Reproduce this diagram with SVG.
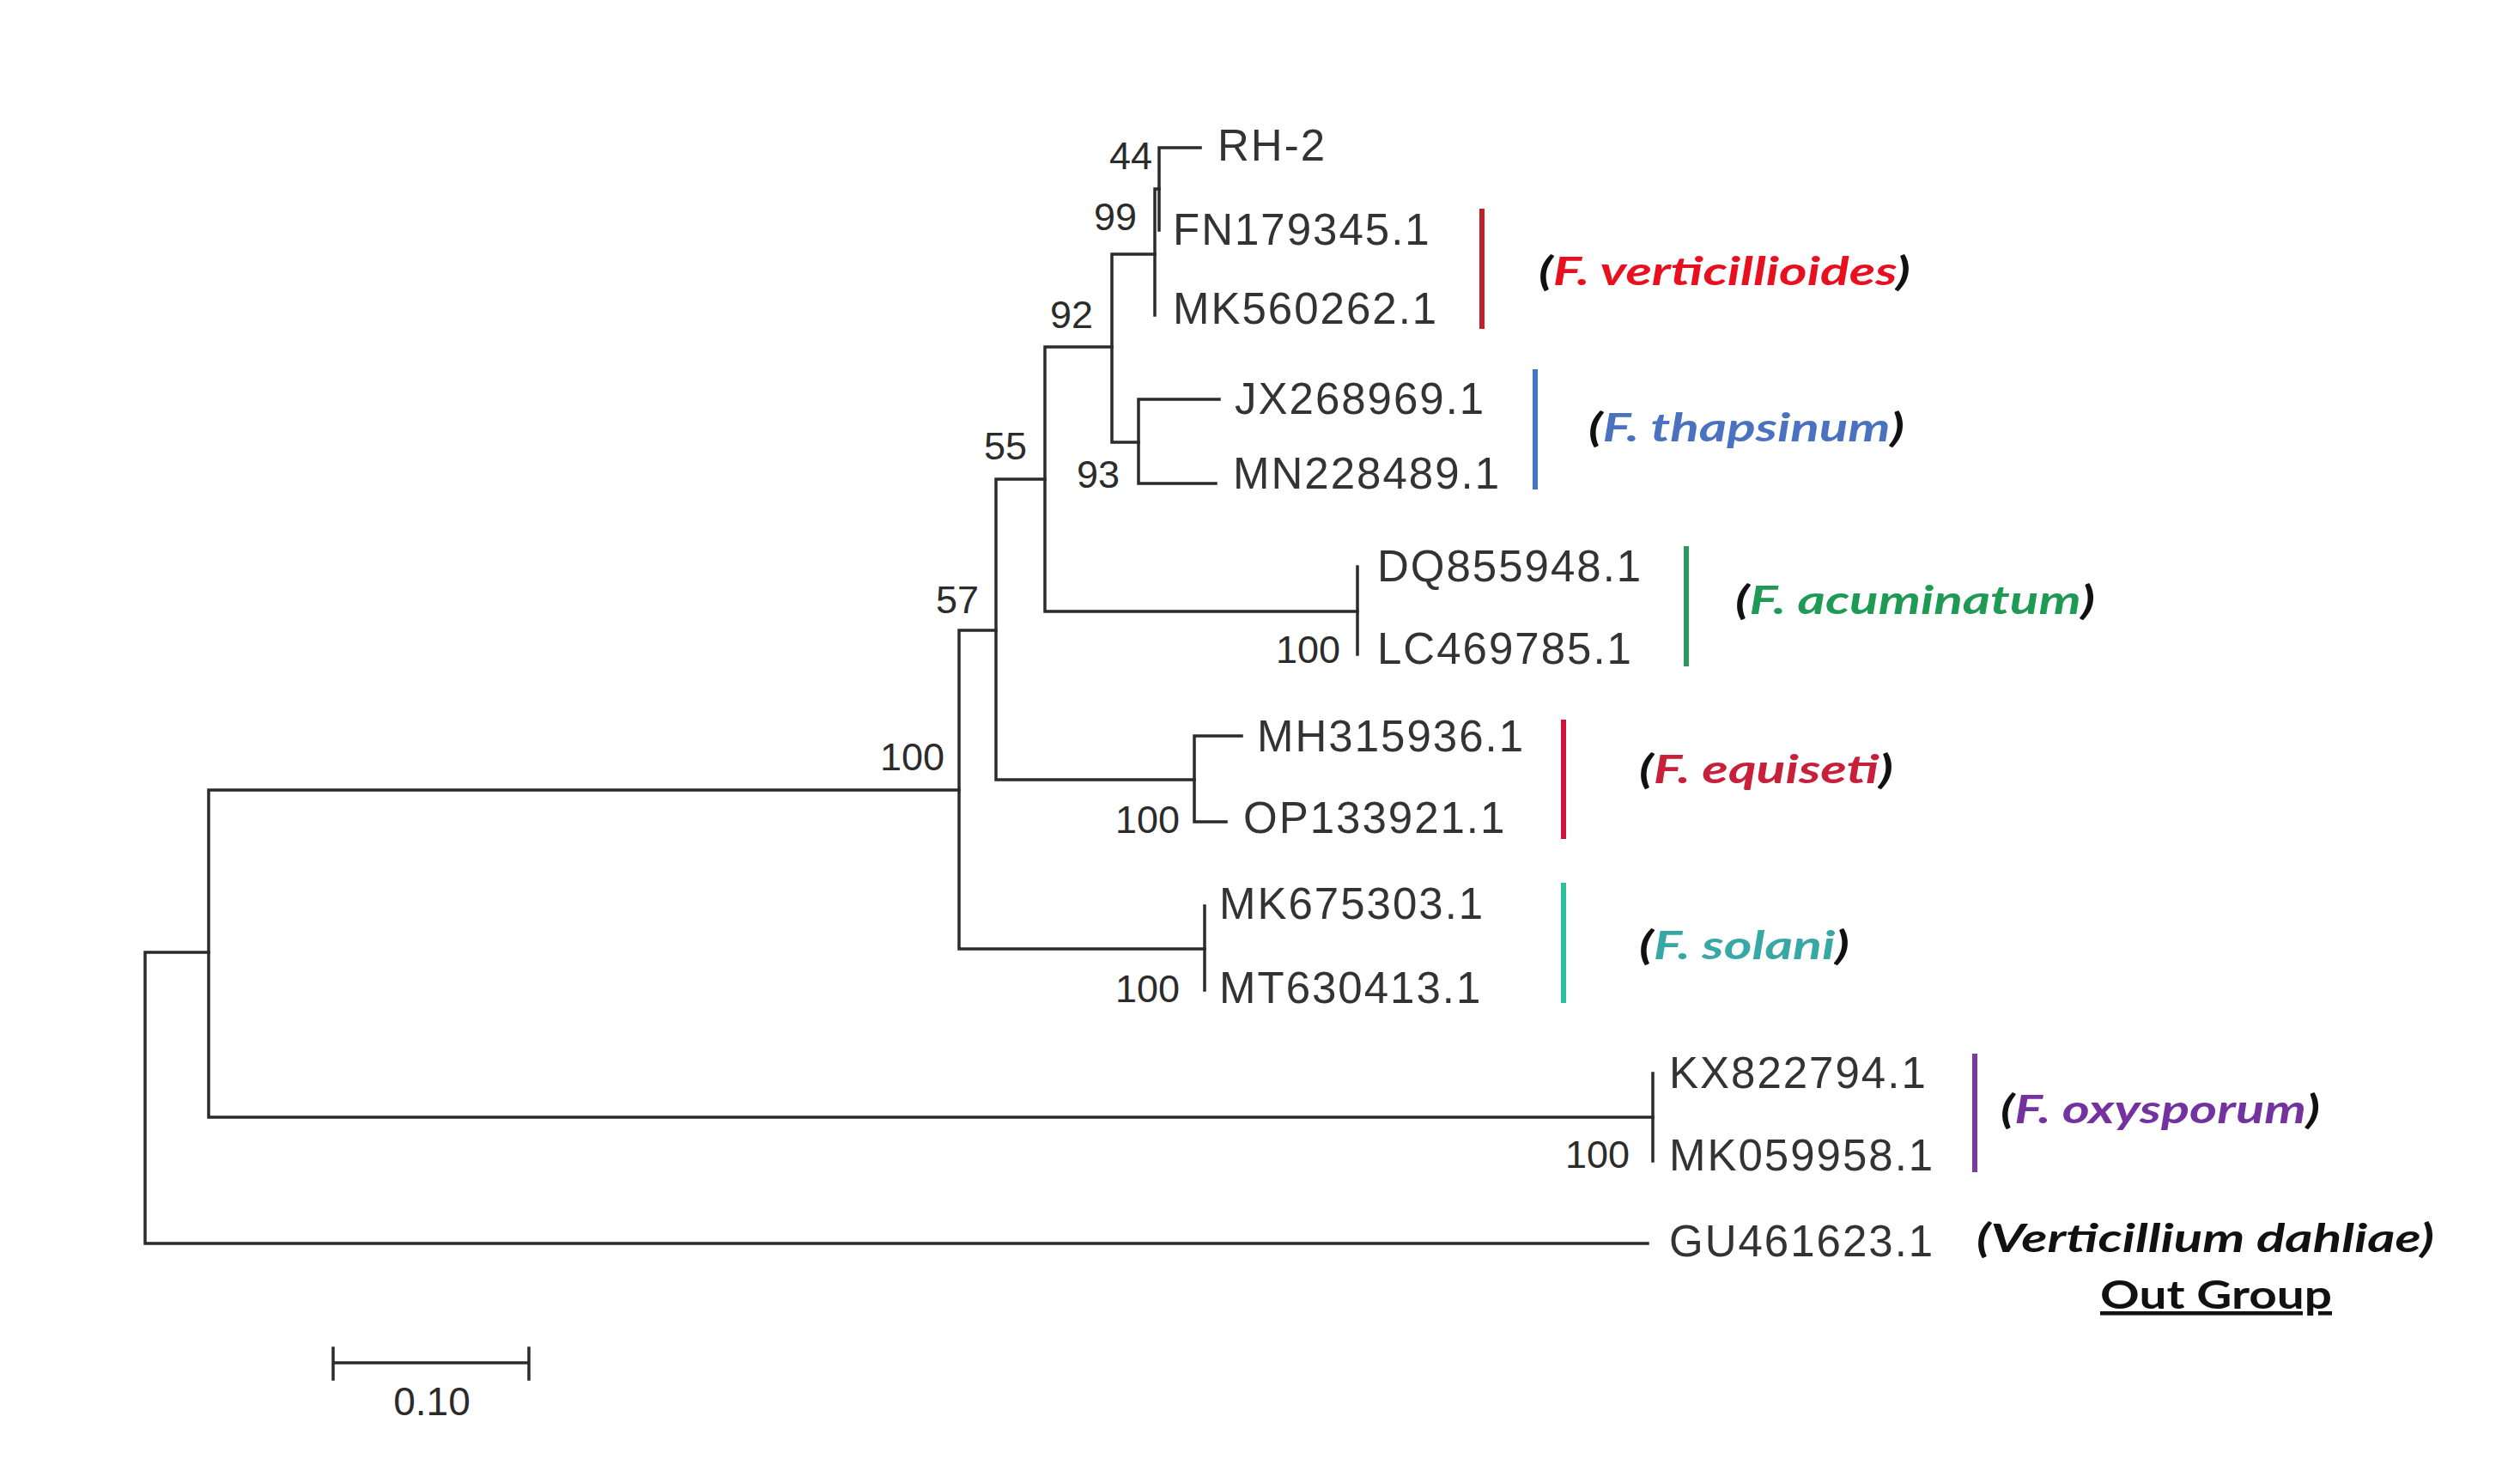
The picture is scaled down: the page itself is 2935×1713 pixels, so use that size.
<svg xmlns="http://www.w3.org/2000/svg" width="2935" height="1713" viewBox="0 0 2935 1713">
<style>
.br{stroke:#2b2b2b;stroke-width:3.5;fill:none;stroke-linecap:square}
.acc{font-family:"Liberation Sans",Arial,sans-serif;font-size:51px;letter-spacing:2px;fill:#333}
.bs{font-family:"Liberation Sans",Arial,sans-serif;font-size:45px;fill:#2b2b2b;text-anchor:end}
.grp{font-family:Lato,"Open Sans",sans-serif;font-size:46px;font-weight:bold;font-style:italic;fill:#111}
.bar{stroke-width:6;fill:none}
</style>
<rect width="2935" height="1713" fill="#fff"/>
<g id="connectors">
<path class="br" d="M169 1109V1448M169 1109H243M169 1448H1919"/>
<path class="br" d="M243 920V1301M243 920H1117M243 1301H1925"/>
<path class="br" d="M1925 1250V1352"/>
<path class="br" d="M1117 734V1105M1117 734H1160M1117 1105H1403"/>
<path class="br" d="M1403 1055V1153"/>
<path class="br" d="M1160 558V908M1160 558H1217M1160 908H1391"/>
<path class="br" d="M1391 857V957M1391 857H1446M1391 957H1428"/>
<path class="br" d="M1217 404V712M1217 404H1295M1217 712H1581"/>
<path class="br" d="M1581 660V762"/>
<path class="br" d="M1295 296V515M1295 296H1345M1295 515H1326"/>
<path class="br" d="M1326 465V563M1326 465H1420M1326 563H1416"/>
<path class="br" d="M1345 220V367M1345 220H1350"/>
<path class="br" d="M1350 172V268M1350 172H1398"/>
</g>
<g id="bootstrap">
<text class="bs" x="1342" y="197">44</text>
<text class="bs" x="1324" y="268">99</text>
<text class="bs" x="1273" y="382">92</text>
<text class="bs" x="1304" y="568">93</text>
<text class="bs" x="1196" y="535">55</text>
<text class="bs" x="1140" y="714">57</text>
<text class="bs" x="1100" y="897">100</text>
<text class="bs" x="1561" y="772">100</text>
<text class="bs" x="1374" y="970">100</text>
<text class="bs" x="1374" y="1167">100</text>
<text class="bs" x="1898" y="1360">100</text>
</g>
<g id="leaves">
<text id="RH-2" class="acc" x="1418" y="187">RH-2</text>
<text id="FN179345" class="acc" x="1366" y="285">FN179345.1</text>
<text id="MK560262" class="acc" x="1366" y="377">MK560262.1</text>
<text id="JX268969" class="acc" x="1438" y="482">JX268969.1</text>
<text id="MN228489" class="acc" x="1436" y="569">MN228489.1</text>
<text id="DQ855948" class="acc" x="1604" y="677">DQ855948.1</text>
<text id="LC469785" class="acc" x="1604" y="773">LC469785.1</text>
<text id="MH315936" class="acc" x="1464" y="875">MH315936.1</text>
<text id="OP133921" class="acc" x="1448" y="970">OP133921.1</text>
<text id="MK675303" class="acc" x="1420" y="1070">MK675303.1</text>
<text id="MT630413" class="acc" x="1420" y="1168">MT630413.1</text>
<text id="KX822794" class="acc" x="1944" y="1267">KX822794.1</text>
<text id="MK059958" class="acc" x="1944" y="1363">MK059958.1</text>
<text id="GU461623" class="acc" x="1944" y="1463">GU461623.1</text>
</g>
<g id="clades">
<g id="verticillioides">
<line class="bar" stroke="#c01f2c" x1="1726" y1="243" x2="1726" y2="383"/>
<text class="grp" x="1792" y="332" textLength="433" lengthAdjust="spacingAndGlyphs">(<tspan fill="#e8101f">F. verticillioides</tspan>)</text>
</g>
<g id="thapsinum">
<line class="bar" stroke="#4275d0" x1="1788" y1="430" x2="1788" y2="570"/>
<text class="grp" x="1850" y="514" textLength="368" lengthAdjust="spacingAndGlyphs">(<tspan fill="#4a72c0">F. thapsinum</tspan>)</text>
</g>
<g id="acuminatum">
<line class="bar" stroke="#2a9a5a" x1="1964" y1="636" x2="1964" y2="776"/>
<text class="grp" x="2021" y="715" textLength="419" lengthAdjust="spacingAndGlyphs">(<tspan fill="#1f9a55">F. acuminatum</tspan>)</text>
</g>
<g id="equiseti">
<line class="bar" stroke="#d0143e" x1="1821" y1="838" x2="1821" y2="977"/>
<text class="grp" x="1909" y="912" textLength="296" lengthAdjust="spacingAndGlyphs">(<tspan fill="#c8203a">F. equiseti</tspan>)</text>
</g>
<g id="solani">
<line class="bar" stroke="#2dc09e" x1="1821" y1="1028" x2="1821" y2="1168"/>
<text class="grp" x="1909" y="1117" textLength="245" lengthAdjust="spacingAndGlyphs">(<tspan fill="#38a8a6">F. solani</tspan>)</text>
</g>
<g id="oxysporum">
<line class="bar" stroke="#7a3aa0" x1="2300" y1="1227" x2="2300" y2="1365"/>
<text class="grp" x="2330" y="1308" textLength="372" lengthAdjust="spacingAndGlyphs">(<tspan fill="#7432a0">F. oxysporum</tspan>)</text>
</g>
<g id="outgroup">
<text class="grp" x="2302" y="1458" textLength="533" lengthAdjust="spacingAndGlyphs">(Verticillium dahliae)</text>
<text x="2446" y="1524" font-family="Lato,'Open Sans',sans-serif" font-size="46" font-weight="bold" fill="#111" textLength="270" lengthAdjust="spacingAndGlyphs" text-decoration="underline">Out Group</text>
</g>
</g>
<g id="scalebar">
<path class="br" stroke-width="4" d="M388 1587H616M388 1570V1606M616 1570V1606"/>
<text x="503" y="1648" font-family="'Liberation Sans',Arial,sans-serif" font-size="46" fill="#2b2b2b" text-anchor="middle">0.10</text>
</g>
</svg>
